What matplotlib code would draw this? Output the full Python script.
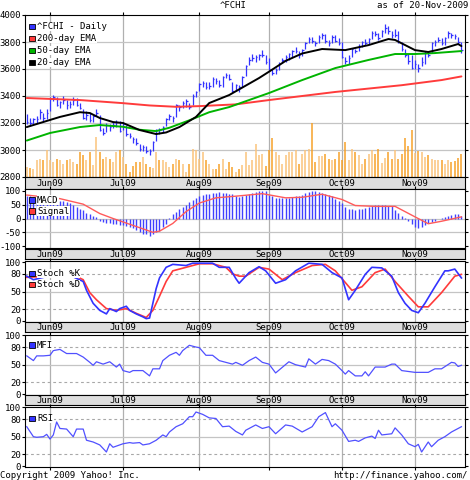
import matplotlib
matplotlib.use('Agg')
import matplotlib.pyplot as plt
import pandas as pd
from matplotlib.patches import Rectangle

plt.rcParams['font.family'] = ['DejaVu Sans Mono']
FS = 6.5

# ---------------- data ----------------
start_date, end_date = '2009-05-21', '2009-11-20'

close = [3205, 3198, 3226, 3232, 3282, 3236, 3277,
         3380, 3389, 3337, 3355, 3371, 3330, 3340, 3368, 3337, 3312,
         3238, 3262, 3225, 3249, 3272, 3146, 3125, 3185, 3168, 3184,
         3204, 3140, 3194, 3118, 3101, 3078, 3051, 3005, 3023, 2995,
         2990, 3060, 3150, 3145, 3170, 3232, 3252, 3240, 3331, 3316,
         3345, 3363, 3318, 3400, 3426, 3488, 3495, 3470, 3476, 3527,
         3509, 3478, 3539, 3553, 3527, 3440, 3480, 3470, 3540, 3620,
         3670, 3680, 3690, 3700, 3705, 3653, 3600, 3570, 3595, 3640,
         3670, 3690, 3710, 3730, 3735, 3700, 3740, 3790, 3820, 3810,
         3790, 3840, 3850, 3810, 3790, 3840, 3810, 3795, 3690, 3660,
         3680, 3745, 3730, 3770, 3800, 3795, 3820, 3870, 3860, 3830,
         3880, 3905, 3880, 3850, 3855, 3800, 3750, 3700, 3660, 3608,
         3640, 3610, 3650, 3720, 3700, 3790, 3800, 3815, 3790, 3830,
         3865, 3850, 3845, 3800, 3740]

high = [3265, 3235, 3240, 3250, 3300, 3275, 3300,
        3390, 3410, 3395, 3365, 3400, 3370, 3360, 3395, 3385, 3345,
        3300, 3290, 3275, 3260, 3300, 3260, 3160, 3200, 3190, 3205,
        3220, 3215, 3210, 3185, 3125, 3100, 3090, 3045, 3040, 3030,
        3010, 3070, 3155, 3165, 3180, 3240, 3270, 3255, 3340, 3335,
        3360, 3375, 3350, 3415, 3435, 3495, 3510, 3505, 3500, 3540,
        3535, 3515, 3550, 3570, 3560, 3500, 3490, 3480, 3550, 3630,
        3690, 3710, 3700, 3710, 3740, 3700, 3680, 3600, 3605, 3650,
        3680, 3700, 3715, 3740, 3760, 3730, 3750, 3800, 3835, 3835,
        3810, 3850, 3870, 3860, 3815, 3850, 3855, 3830, 3800, 3690,
        3700, 3755, 3750, 3785, 3810, 3825, 3830, 3880, 3880, 3865,
        3890, 3930, 3920, 3880, 3895, 3880, 3800, 3750, 3710, 3700,
        3670, 3640, 3690, 3730, 3730, 3800, 3815, 3840, 3830, 3840,
        3880, 3870, 3860, 3840, 3800]

low = [3190, 3180, 3195, 3200, 3230, 3210, 3230,
       3290, 3360, 3325, 3310, 3340, 3300, 3310, 3330, 3325, 3300,
       3230, 3225, 3210, 3205, 3250, 3140, 3110, 3135, 3140, 3160,
       3170, 3130, 3150, 3105, 3090, 3050, 3040, 2990, 2995, 2980,
       2965, 2995, 3070, 3120, 3135, 3180, 3225, 3210, 3245, 3290,
       3310, 3320, 3300, 3330, 3390, 3440, 3470, 3450, 3455, 3470,
       3490, 3465, 3470, 3530, 3515, 3430, 3440, 3430, 3470, 3545,
       3630, 3660, 3655, 3665, 3690, 3640, 3590, 3555, 3560, 3590,
       3645, 3655, 3670, 3690, 3720, 3680, 3695, 3745, 3790, 3795,
       3770, 3790, 3825, 3795, 3770, 3790, 3800, 3775, 3680, 3640,
       3640, 3690, 3715, 3735, 3760, 3780, 3785, 3825, 3845, 3815,
       3835, 3870, 3860, 3830, 3840, 3790, 3735, 3690, 3640, 3600,
       3600, 3580, 3620, 3640, 3690, 3720, 3770, 3800, 3780, 3780,
       3830, 3830, 3825, 3785, 3720]

volume = [74, 69, 60, 128, 136, 124, 198, 124, 111, 136, 124, 99, 124, 136,
          111, 99, 185, 160, 124, 185, 86, 296, 185, 136, 148, 136, 111, 185,
          198, 148, 99, 37, 79, 111, 111, 148, 99, 74, 69, 185, 124, 124, 111,
          74, 99, 136, 124, 99, 37, 99, 210, 198, 136, 185, 124, 99, 62, 62,
          99, 136, 62, 111, 74,
          37, 62, 86, 185, 86, 124, 242, 160, 173, 79, 198, 289, 185, 160, 99,
          160, 185, 185, 198, 99, 173, 198, 210, 400, 111, 153, 153, 168, 136,
          128, 136, 185, 124, 259, 124, 210, 185, 160, 94, 136, 168, 198, 168,
          210, 104, 143, 185, 136, 198, 136, 168, 289, 227, 351, 178, 193, 185,
          148, 160, 136, 128, 128, 124, 94, 124, 111, 119, 143, 173]

macd = [80, 80, 78, 72, 70, 70, 68, 66, 66, 64, 65, 63, 60,
        55, 48, 40, 35, 30, 20, 15, 10, 5, -8, -12, -15, -18, -20,
        -20, -25, -22, -28, -30, -35, -40, -48, -55, -58, -62,
        -55, -50, -45, -30, -20, 3, 15, 25, 35, 42, 50, 60, 68, 75, 80,
        85, 88, 90, 92, 93, 95, 94, 92, 90, 88, 80, 78, 82, 85, 88,
        92, 96, 98, 100, 98, 85, 80, 75, 76, 75, 74, 76, 78, 80, 82,
        85, 92, 96, 98, 100, 97, 92, 88, 84, 80, 72, 65,
        55, 40, 35, 33, 32, 34, 36, 38, 42, 45, 48, 50, 50, 48, 46, 44,
        30, 20, 10, 2, -8, -20, -30, -35, -32, -25, -18, -12, -8,
        -3, 2, 6, 10, 14, 18, 15, 10]

signal = [('05-21', 85), ('06-04', 72), ('06-15', 52), ('06-22', 18), ('06-26', 0),
          ('07-06', -25), ('07-14', -50), ('07-16', -46), ('07-22', -18), ('07-28', 25),
          ('08-03', 56), ('08-10', 75), ('08-18', 81), ('08-28', 90), ('09-08', 75),
          ('09-15', 77), ('09-23', 88), ('10-01', 69), ('10-07', 47), ('10-15', 44),
          ('10-23', 44), ('11-02', 6), ('11-06', -19), ('11-12', -10), ('11-20', 6)]

ema200 = [('05-21', 3385), ('06-12', 3370), ('07-01', 3347), ('07-13', 3330),
          ('07-23', 3320), ('08-03', 3325), ('08-18', 3338), ('09-01', 3370),
          ('09-29', 3430), ('10-27', 3480), ('11-12', 3518), ('11-20', 3545)]

ema50 = [('05-21', 3070), ('06-01', 3126), ('06-12', 3170), ('06-22', 3185),
         ('07-01', 3172), ('07-08', 3150), ('07-15', 3140), ('07-21', 3165),
         ('07-29', 3220), ('08-06', 3280), ('08-14', 3318), ('09-01', 3422),
         ('09-15', 3518), ('09-29', 3607), ('10-13', 3667), ('10-23', 3711),
         ('11-02', 3711), ('11-10', 3718), ('11-20', 3733)]

ema20 = [('05-21', 3170), ('05-27', 3200), ('06-04', 3245), ('06-12', 3280),
         ('06-17', 3274), ('06-22', 3237), ('06-26', 3207), ('07-01', 3200),
         ('07-08', 3148), ('07-15', 3118), ('07-20', 3130), ('07-24', 3170),
         ('07-31', 3245), ('08-06', 3348), ('08-14', 3407), ('08-27', 3533),
         ('09-01', 3580), ('09-08', 3660), ('09-15', 3715), ('09-23', 3748),
         ('10-02', 3740), ('10-13', 3777), ('10-21', 3822), ('10-23', 3815),
         ('11-02', 3740), ('11-06', 3726), ('11-12', 3748), ('11-19', 3785),
         ('11-20', 3770)]

stoch_k = [('05-21', 76), ('05-25', 70), ('06-02', 78), ('06-08', 80), ('06-15', 67),
           ('06-16', 52), ('06-18', 30), ('06-22', 18), ('06-24', 12), ('06-25', 21),
           ('06-29', 16), ('06-30', 21), ('07-02', 25), ('07-03', 18), ('07-07', 12),
           ('07-09', 7), ('07-10', 4), ('07-13', 5), ('07-14', 30), ('07-15', 55),
           ('07-16', 73), ('07-20', 91), ('07-22', 96), ('07-28', 94), ('07-30', 98),
           ('08-05', 98), ('08-07', 98), ('08-11', 91), ('08-14', 91), ('08-18', 72),
           ('08-19', 64), ('08-24', 82), ('08-27', 92), ('08-31', 85), ('09-03', 64),
           ('09-08', 70), ('09-11', 85), ('09-17', 98), ('09-23', 96), ('09-28', 82),
           ('10-01', 73), ('10-05', 36), ('10-07', 52), ('10-12', 79), ('10-14', 91),
           ('10-19', 90), ('10-22', 76), ('10-26', 48), ('10-28', 30), ('10-30', 18),
           ('11-03', 14), ('11-05', 30), ('11-10', 58), ('11-13', 85), ('11-16', 85),
           ('11-18', 88), ('11-20', 73)]

stoch_d = [('05-21', 74), ('06-01', 76), ('06-10', 78), ('06-15', 70), ('06-17', 48),
           ('06-19', 36), ('06-24', 21), ('06-29', 18), ('07-02', 21), ('07-07', 13),
           ('07-10', 6), ('07-14', 18), ('07-16', 42), ('07-20', 67), ('07-22', 85),
           ('07-28', 91), ('08-03', 97), ('08-07', 97), ('08-13', 91), ('08-17', 80),
           ('08-19', 76), ('08-21', 76), ('08-27', 91), ('09-01', 88), ('09-07', 70),
           ('09-11', 82), ('09-18', 94), ('09-24', 96), ('09-29', 85), ('10-06', 52),
           ('10-09', 58), ('10-15', 82), ('10-20', 88), ('10-23', 67), ('10-29', 42),
           ('11-03', 24), ('11-06', 24), ('11-12', 48), ('11-18', 76), ('11-20', 79)]

mfi = [('05-21', 65), ('05-25', 57), ('05-26', 65), ('05-28', 65), ('06-01', 66),
       ('06-02', 74), ('06-04', 76), ('06-08', 69), ('06-11', 69), ('06-15', 63),
       ('06-17', 54), ('06-18', 49), ('06-19', 55), ('06-23', 51), ('06-25', 55),
       ('06-29', 46), ('06-30', 51), ('07-01', 40), ('07-03', 37), ('07-06', 40),
       ('07-09', 40), ('07-13', 31), ('07-14', 43), ('07-16', 43), ('07-17', 57),
       ('07-21', 66), ('07-23', 71), ('07-24', 66), ('07-27', 74), ('07-29', 83),
       ('07-31', 80), ('08-03', 79), ('08-05', 66), ('08-07', 66), ('08-11', 57),
       ('08-17', 51), ('08-18', 54), ('08-20', 49), ('08-24', 57), ('08-26', 63),
       ('08-28', 54), ('09-01', 51), ('09-03', 36), ('09-09', 55), ('09-11', 50),
       ('09-16', 46), ('09-17', 60), ('09-21', 51), ('09-23', 59), ('09-25', 57),
       ('09-29', 51), ('10-01', 40), ('10-02', 34), ('10-05', 40), ('10-07', 31),
       ('10-09', 31), ('10-12', 38), ('10-13', 31), ('10-15', 46), ('10-20', 46),
       ('10-22', 51), ('10-23', 51), ('10-27', 40), ('11-02', 37), ('11-06', 37),
       ('11-10', 43), ('11-12', 43), ('11-17', 54), ('11-18', 53), ('11-19', 47),
       ('11-20', 49)]

rsi = [('05-21', 67), ('05-25', 50), ('05-26', 49), ('05-28', 50), ('05-29', 54),
       ('06-01', 46), ('06-02', 53), ('06-03', 75), ('06-04', 64), ('06-08', 63),
       ('06-10', 50), ('06-11', 63), ('06-15', 63), ('06-16', 44), ('06-18', 41),
       ('06-22', 36), ('06-24', 24), ('06-25', 38), ('06-26', 32), ('06-30', 36),
       ('07-01', 38), ('07-03', 40), ('07-06', 39), ('07-08', 40), ('07-09', 36),
       ('07-13', 38), ('07-15', 44), ('07-17', 53), ('07-20', 50), ('07-21', 58),
       ('07-23', 67), ('07-27', 72), ('07-29', 84), ('07-30', 84), ('07-31', 92),
       ('08-04', 88), ('08-06', 82), ('08-10', 81), ('08-12', 67), ('08-14', 68),
       ('08-18', 59), ('08-20', 53), ('08-21', 61), ('08-26', 70), ('08-28', 64),
       ('09-01', 67), ('09-03', 55), ('09-08', 70), ('09-10', 68), ('09-15', 58),
       ('09-18', 67), ('09-22', 84), ('09-24', 91), ('09-28', 67), ('09-29', 72),
       ('10-01', 61), ('10-05', 42), ('10-07', 44), ('10-08', 42), ('10-12', 48),
       ('10-14', 51), ('10-15', 47), ('10-16', 61), ('10-19', 53), ('10-22', 55),
       ('10-23', 65), ('10-27', 53), ('10-29', 38), ('11-02', 33), ('11-03', 37),
       ('11-04', 24), ('11-06', 41), ('11-09', 33), ('11-11', 44), ('11-13', 50),
       ('11-17', 58), ('11-19', 64), ('11-20', 67)]

# ---------------- helpers ----------------
dates = pd.bdate_range(start_date, end_date)
xs = list(range(len(dates)))


def sx(pairs):
    idx = dates.get_indexer(pd.to_datetime(['2009-' + p[0] for p in pairs]))
    assert (idx >= 0).all()
    return idx, [p[1] for p in pairs]


month_pos, month_lab = [], []
for i in range(1, len(dates)):
    if dates[i].month != dates[i - 1].month:
        month_pos.append(i)
        month_lab.append(dates[i].strftime('%b%y'))

W, H = 470, 480
PX_PER_DAY = 3.318
X0 = month_pos[0] - (50 - 25) / PX_PER_DAY
X1 = X0 + 440 / PX_PER_DAY

fig = plt.figure(figsize=(W / 100, H / 100), dpi=100)
fig.patch.set_facecolor('white')


def add_ax(top, bottom, left=25, right=465):
    return fig.add_axes([left / W, 1 - bottom / H, (right - left) / W, (bottom - top) / H])


def style(ax, ylim, yticks):
    ax.set_xlim(X0, X1)
    ax.set_ylim(*ylim)
    ax.set_yticks(yticks)
    ax.set_yticklabels([str(t) for t in yticks])
    ax.set_xticks(month_pos)
    ax.set_xticklabels([])
    ax.tick_params(axis='both', direction='out', length=2.5, width=0.8, pad=0.5,
                   top=True, right=True, labelsize=FS, colors='black')
    for s in ax.spines.values():
        s.set_linewidth(0.8)
    for p in month_pos:
        ax.axvline(p, color='#b0b0b0', lw=0.9, zorder=0)


def band(top, bottom):
    b = add_ax(top, bottom)
    b.set_facecolor('#dedede')
    b.set_xlim(X0, X1)
    b.set_ylim(0, 1)
    b.set_xticks([])
    b.set_yticks([])
    for s in b.spines.values():
        s.set_linewidth(0.8)
    for p, lab in zip(month_pos, month_lab):
        b.text(p, 0.42, lab, ha='center', va='center', fontsize=FS)


def fx(x):
    return x / W


def fy(y):
    return 1 - y / H


def legend_item(x, y, color, label):
    fig.add_artist(Rectangle((fx(x), fy(y + 2.7)), 5.5 / W, 5.5 / H, transform=fig.transFigure,
                             facecolor=color, edgecolor='black', lw=0.6, zorder=6))
    fig.text(fx(x + 8), fy(y), label, fontsize=FS, va='center', ha='left', zorder=6,
             bbox=dict(facecolor='white', edgecolor='none', pad=0.3))


def hgrid(ax, solid, dashed=()):
    for v in solid:
        ax.axhline(v, color='#c4c4c4', lw=0.9, zorder=0)
    for v in dashed:
        ax.axhline(v, color='#a8a8a8', lw=0.8, ls=(0, (2.5, 2.5)), zorder=0)


BLUE = '#3333ff'
RED = '#ff3b3b'
GREEN = '#00b400'

# ---------------- main price panel ----------------
ax = add_ax(15, 177)
style(ax, (2800, 4000), list(range(2800, 4001, 200)))
hgrid(ax, range(3000, 4000, 200))
vol_col = ['#f6a22a' if i > 0 and close[i] < close[i - 1] else '#fbc47c' for i in xs]
ax.vlines(xs, 2800, [2800 + v for v in volume], colors=vol_col, lw=1.1, zorder=1)
ax.vlines(xs, low, high, colors=BLUE, lw=0.9, zorder=3)
ax.hlines(close, [x for x in xs], [x + 0.45 for x in xs], colors=BLUE, lw=0.9, zorder=3)
for series, col in ((ema200, RED), (ema50, GREEN), (ema20, 'black')):
    ix, v = sx(series)
    ax.plot(ix, v, color=col, lw=1.4, zorder=4, solid_capstyle='round')
legend_item(29, 26.5, BLUE, '^FCHI - Daily')
legend_item(29, 38.5, RED, '200-day EMA')
legend_item(29, 50.5, GREEN, '50-day EMA')
legend_item(29, 62.5, 'black', '20-day EMA')
band(177, 189)

# ---------------- MACD ----------------
ax2 = add_ax(189, 248)
style(ax2, (-107, 107), [100, 50, 0, -50, -100])
hgrid(ax2, [50, 0, -50])
ax2.vlines(xs, 0, macd, colors='#4040ff', lw=1.0, zorder=2)
ix, v = sx(signal)
ax2.plot(ix, v, color='#ff5a5a', lw=1.0, zorder=3)
legend_item(29, 200, BLUE, 'MACD')
legend_item(29, 211, RED, 'Signal')
band(249, 259)

# ---------------- Stochastic ----------------
ax3 = add_ax(261, 322)
style(ax3, (-1.7, 101.7), [100, 80, 50, 20, 0])
hgrid(ax3, [50], [80, 20])
ix, v = sx(stoch_k)
ax3.plot(ix, v, color=BLUE, lw=1.2, zorder=3)
ix, v = sx(stoch_d)
ax3.plot(ix, v, color=RED, lw=1.2, zorder=2)
legend_item(29, 273.5, BLUE, 'Stoch %K')
legend_item(29, 284.5, RED, 'Stoch %D')
band(322, 332)

# ---------------- MFI ----------------
ax4 = add_ax(335, 395)
style(ax4, (-1.5, 100.5), [100, 80, 50, 20, 0])
hgrid(ax4, [50], [80, 20])
ix, v = sx(mfi)
ax4.plot(ix, v, color='#5050ff', lw=0.9, zorder=3)
legend_item(29, 345, BLUE, 'MFI')
band(395, 405)

# ---------------- RSI ----------------
ax5 = add_ax(407, 467)
style(ax5, (-1.5, 100.5), [100, 80, 50, 20, 0])
hgrid(ax5, [50], [80, 20])
ix, v = sx(rsi)
ax5.plot(ix, v, color='#5050ff', lw=0.9, zorder=3)
legend_item(29, 418.5, BLUE, 'RSI')

# ---------------- header / footer ----------------
fig.text(fx(233), fy(6), '^FCHI', ha='center', va='center', fontsize=FS)
fig.text(fx(468), fy(6), 'as of 20-Nov-2009', ha='right', va='center', fontsize=FS)
fig.text(fx(0), fy(475), 'Copyright 2009 Yahoo! Inc.', ha='left', va='center', fontsize=FS)
fig.text(fx(468), fy(475), 'http://finance.yahoo.com/', ha='right', va='center', fontsize=FS)

fig.savefig('out.png', dpi=100, facecolor='white')
